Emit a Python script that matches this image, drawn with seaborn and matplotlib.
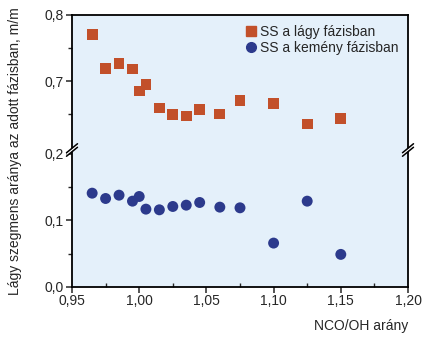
import matplotlib
matplotlib.use("Agg")
import matplotlib.pyplot as plt
import matplotlib.ticker as mticker
from matplotlib.lines import Line2D
from matplotlib.patches import Polygon
import seaborn as sns
import pandas as pd

sns.set_style("ticks")
plt.rcParams['font.family'] = ['Liberation Sans', 'DejaVu Sans']

# data
nco_oh = [0.965, 0.975, 0.985, 0.995, 1.000, 1.005, 1.015, 1.025,
          1.035, 1.045, 1.060, 1.075, 1.100, 1.125, 1.150]
ss_soft = [0.770, 0.719, 0.726, 0.718, 0.685, 0.695, 0.659, 0.649,
           0.647, 0.657, 0.650, 0.671, 0.666, 0.635, 0.643]
ss_hard = [0.141, 0.133, 0.138, 0.129, 0.136, 0.117, 0.116, 0.121,
           0.123, 0.127, 0.120, 0.119, 0.066, 0.129, 0.049]
soft_label = "SS a lágy fázisban"
hard_label = "SS a kemény fázisban"
x_ticks = [0.95, 1.00, 1.05, 1.10, 1.15, 1.20]
upper_ticks = [0.7, 0.8]
lower_ticks = [0.0, 0.1, 0.2]
x_label = "NCO/OH arány"
y_label = "Lágy szegmens aránya az adott fázisban, m/m"

soft_color = "#C2502A"
hard_color = "#2C3A8C"
bg = "#E4F0FA"

W, H = 429, 338
fig = plt.figure(figsize=(W / 100, H / 100), dpi=100)

left_px, right_px, top_px, bot_px, brk_px = 72, 408, 15, 287, 150
fx = lambda px: px / W
fy = lambda py: 1 - py / H

ax_top = fig.add_axes([fx(left_px), fy(brk_px), fx(right_px - left_px), (brk_px - top_px) / H])
ax_bot = fig.add_axes([fx(left_px), fy(bot_px), fx(right_px - left_px), (bot_px - brk_px) / H])

df_soft = pd.DataFrame({"x": nco_oh, "y": ss_soft})
df_hard = pd.DataFrame({"x": nco_oh, "y": ss_hard})

sns.scatterplot(data=df_soft, x="x", y="y", ax=ax_top, marker="s", s=60,
                color=soft_color, edgecolor="none", label=soft_label, legend=False)
sns.scatterplot(data=df_hard, x="x", y="y", ax=ax_bot, marker="o", s=62,
                color=hard_color, edgecolor="none", label=hard_label, legend=False)

for ax in (ax_top, ax_bot):
    ax.set_facecolor(bg)
    ax.set_xlim(0.95, 1.20)
    ax.set_xlabel("")
    ax.set_ylabel("")
    for s in ax.spines.values():
        s.set_linewidth(1.3)
        s.set_color("black")

ax_top.set_ylim(0.8 - (brk_px - top_px) / 660, 0.8)
ax_bot.set_ylim(0.0, 0.2 + (153.9 - brk_px) / 664)

ax_top.spines["bottom"].set_visible(False)
ax_bot.spines["top"].set_visible(False)

ax_top.set_xticks([])
ax_top.tick_params(axis="x", which="both", bottom=False, labelbottom=False)

fmt1 = mticker.FuncFormatter(lambda v, p: f"{v:.1f}".replace(".", ","))
fmt2 = mticker.FuncFormatter(lambda v, p: f"{v:.2f}".replace(".", ","))

ax_top.set_yticks(upper_ticks)
ax_top.yaxis.set_minor_locator(mticker.FixedLocator([0.65, 0.75]))
ax_top.yaxis.set_major_formatter(fmt1)
ax_bot.set_yticks(lower_ticks)
ax_bot.yaxis.set_minor_locator(mticker.FixedLocator([0.05, 0.15]))
ax_bot.yaxis.set_major_formatter(fmt1)
ax_bot.set_xticks(x_ticks)
ax_bot.xaxis.set_minor_locator(mticker.FixedLocator([0.975, 1.025, 1.075, 1.125, 1.175]))
ax_bot.xaxis.set_major_formatter(fmt2)

for ax in (ax_top, ax_bot):
    ax.tick_params(axis="y", which="major", direction="out", length=4, width=1.1,
                   labelsize=10, pad=2, right=False)
    ax.tick_params(axis="y", which="minor", direction="out", length=3, width=1.0, right=False)
ax_bot.tick_params(axis="x", which="major", direction="out", length=4, width=1.1,
                   labelsize=10, pad=1, top=False)
ax_bot.tick_params(axis="x", which="minor", direction="in", length=3, width=1.0, top=False)

# legend
handles = [Line2D([], [], marker="s", linestyle="none", color=soft_color, markersize=7),
           Line2D([], [], marker="o", linestyle="none", color=hard_color, markersize=7)]
ax_top.legend(handles, [soft_label, hard_label], loc="upper right", frameon=False,
              fontsize=10, handlelength=0.6, handletextpad=0.3, borderaxespad=0.3,
              labelspacing=0.15, borderpad=0.4)

# break marks
for xpx in (left_px, right_px):
    gap = 3.5
    dx, dy = 5.5, 4.5
    poly = Polygon([(fx(xpx - dx), fy(brk_px + dy - gap / 2 + 0.5)),
                    (fx(xpx + dx), fy(brk_px - dy - gap / 2 + 0.5)),
                    (fx(xpx + dx), fy(brk_px - dy + gap / 2 - 0.5)),
                    (fx(xpx - dx), fy(brk_px + dy + gap / 2 - 0.5))],
                   closed=True, transform=fig.transFigure, facecolor="white",
                   edgecolor="none", zorder=10)
    fig.add_artist(poly)
    for off in (-gap / 2, gap / 2):
        fig.add_artist(Line2D([fx(xpx - dx), fx(xpx + dx)],
                              [fy(brk_px + dy + off), fy(brk_px - dy + off)],
                              transform=fig.transFigure, color="black", lw=1.1, zorder=11))

fig.text(fx(15), fy((top_px + bot_px) / 2), y_label, rotation=90, ha="center",
         va="center", fontsize=10)
fig.text(fx(right_px), fy(326), x_label, ha="right", va="center", fontsize=10)

fig.savefig("out.png", dpi=100)
